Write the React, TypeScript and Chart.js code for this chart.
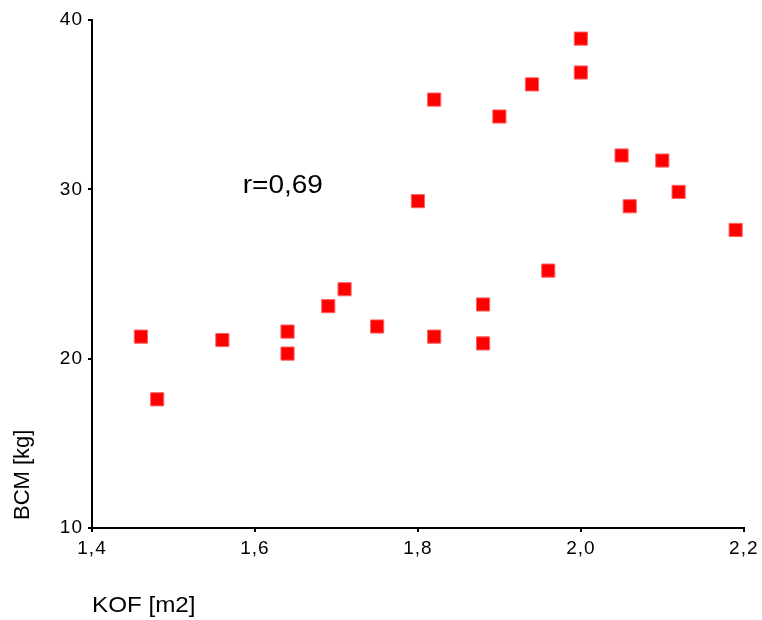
import React, { useEffect, useRef } from "react";
import { Chart, registerables } from "chart.js";

Chart.register(...registerables);

const kofValues = [1.46, 1.48, 1.56, 1.64, 1.64, 1.69, 1.71, 1.75, 1.80, 1.82, 1.82, 1.88, 1.88, 1.90, 1.94, 1.96, 2.00, 2.00, 2.05, 2.06, 2.10, 2.12, 2.19];
const bcmValues = [21.3, 17.6, 21.1, 21.6, 20.3, 23.1, 24.1, 21.9, 29.3, 35.3, 21.3, 23.2, 20.9, 34.3, 36.2, 25.2, 38.9, 36.9, 32.0, 29.0, 31.7, 29.85, 27.6];
const xTicks = [1.4, 1.6, 1.8, 2.0, 2.2];
const yTicks = [10, 20, 30, 40];
const annotationText = "r=0,69";
const annotationPos = { x: 1.585, y: 30.2 };
const xTitle = "KOF [m2]";
const yTitle = "BCM [kg]";

const fmt = (v: number) => v.toFixed(1).replace(".", ",");

const spacingPlugin = {
  id: "spacingPlugin",
  beforeDraw(chart: any) {
    chart.ctx.save();
    (chart.ctx as any).letterSpacing = "1px";
  },
  afterDatasetsDraw(chart: any) {
    chart.ctx.restore();
  },
};

const textPlugin = {
  id: "textPlugin",
  afterDraw(chart: any) {
    const ctx = chart.ctx;
    const xs = chart.scales.x;
    const ys = chart.scales.y;
    ctx.save();
    (ctx as any).letterSpacing = "0px";
    ctx.fillStyle = "#000";
    ctx.font = "25px 'Liberation Sans', Arial, sans-serif";
    ctx.textBaseline = "middle";
    ctx.textAlign = "left";
    const ax = xs.getPixelForValue(annotationPos.x);
    const ay = ys.getPixelForValue(annotationPos.y);
    ctx.save();
    ctx.translate(ax, ay);
    ctx.scale(1.12, 1);
    ctx.fillText(annotationText, 0, 0);
    ctx.restore();
    ctx.font = "22px 'Liberation Sans', Arial, sans-serif";
    ctx.save();
    ctx.translate(xs.left, 606);
    ctx.scale(1.1, 1);
    ctx.fillText(xTitle, 0, 0);
    ctx.restore();
    ctx.save();
    ctx.translate(23, 520);
    ctx.rotate(-Math.PI / 2);
    ctx.fillText(yTitle, 0, 0);
    ctx.restore();
    ctx.restore();
  },
};

export default function App() {
  const ref = useRef<HTMLCanvasElement | null>(null);
  useEffect(() => {
    if (!ref.current) return;
    const chart = new Chart(ref.current, {
      type: "scatter",
      data: {
        datasets: [
          {
            label: "BCM",
            data: kofValues.map((x, i) => ({ x, y: bcmValues[i] })),
            pointStyle: "rect",
            pointRadius: 9.3,
            pointBackgroundColor: "#ff0000",
            pointBorderColor: "#ff6060",
            pointBorderWidth: 1,
          },
        ],
      },
      options: {
        animation: false,
        responsive: false,
        maintainAspectRatio: false,
        layout: { padding: { left: 0, top: 20, right: 17, bottom: 0 } },
        plugins: { legend: { display: false }, tooltip: { enabled: false } },
        scales: {
          x: {
            type: "linear",
            min: 1.4,
            max: 2.2,
            afterBuildTicks: (s: any) => {
              s.ticks = xTicks.map((v) => ({ value: v }));
            },
            afterFit: (s: any) => {
              s.height = 92;
            },
            ticks: {
              callback: (v: any) => fmt(Number(v)),
              color: "#000",
              font: { family: "'Liberation Sans', Arial, sans-serif", size: 19 },
              padding: 5,
              maxRotation: 0,
            },
            grid: { display: true, drawOnChartArea: false, drawTicks: true, tickLength: 4, color: "#000", lineWidth: 2 },
            border: { display: true, color: "#000", width: 2 },
          },
          y: {
            type: "linear",
            min: 10,
            max: 40,
            afterBuildTicks: (s: any) => {
              s.ticks = yTicks.map((v) => ({ value: v }));
            },
            afterFit: (s: any) => {
              s.width = 92;
            },
            ticks: {
              callback: (v: any) => String(v),
              color: "#000",
              font: { family: "'Liberation Sans', Arial, sans-serif", size: 19 },
              padding: 5,
            },
            grid: { display: true, drawOnChartArea: false, drawTicks: true, tickLength: 4, color: "#000", lineWidth: 2 },
            border: { display: true, color: "#000", width: 2 },
          },
        },
      },
      plugins: [spacingPlugin, textPlugin],
    });
    return () => chart.destroy();
  }, []);
  return (
    <div style={{ position: "fixed", left: 0, top: 0, width: 762, height: 620, background: "#fff" }}>
      <canvas ref={ref} width={762} height={620} style={{ width: 762, height: 620 }} />
    </div>
  );
}
